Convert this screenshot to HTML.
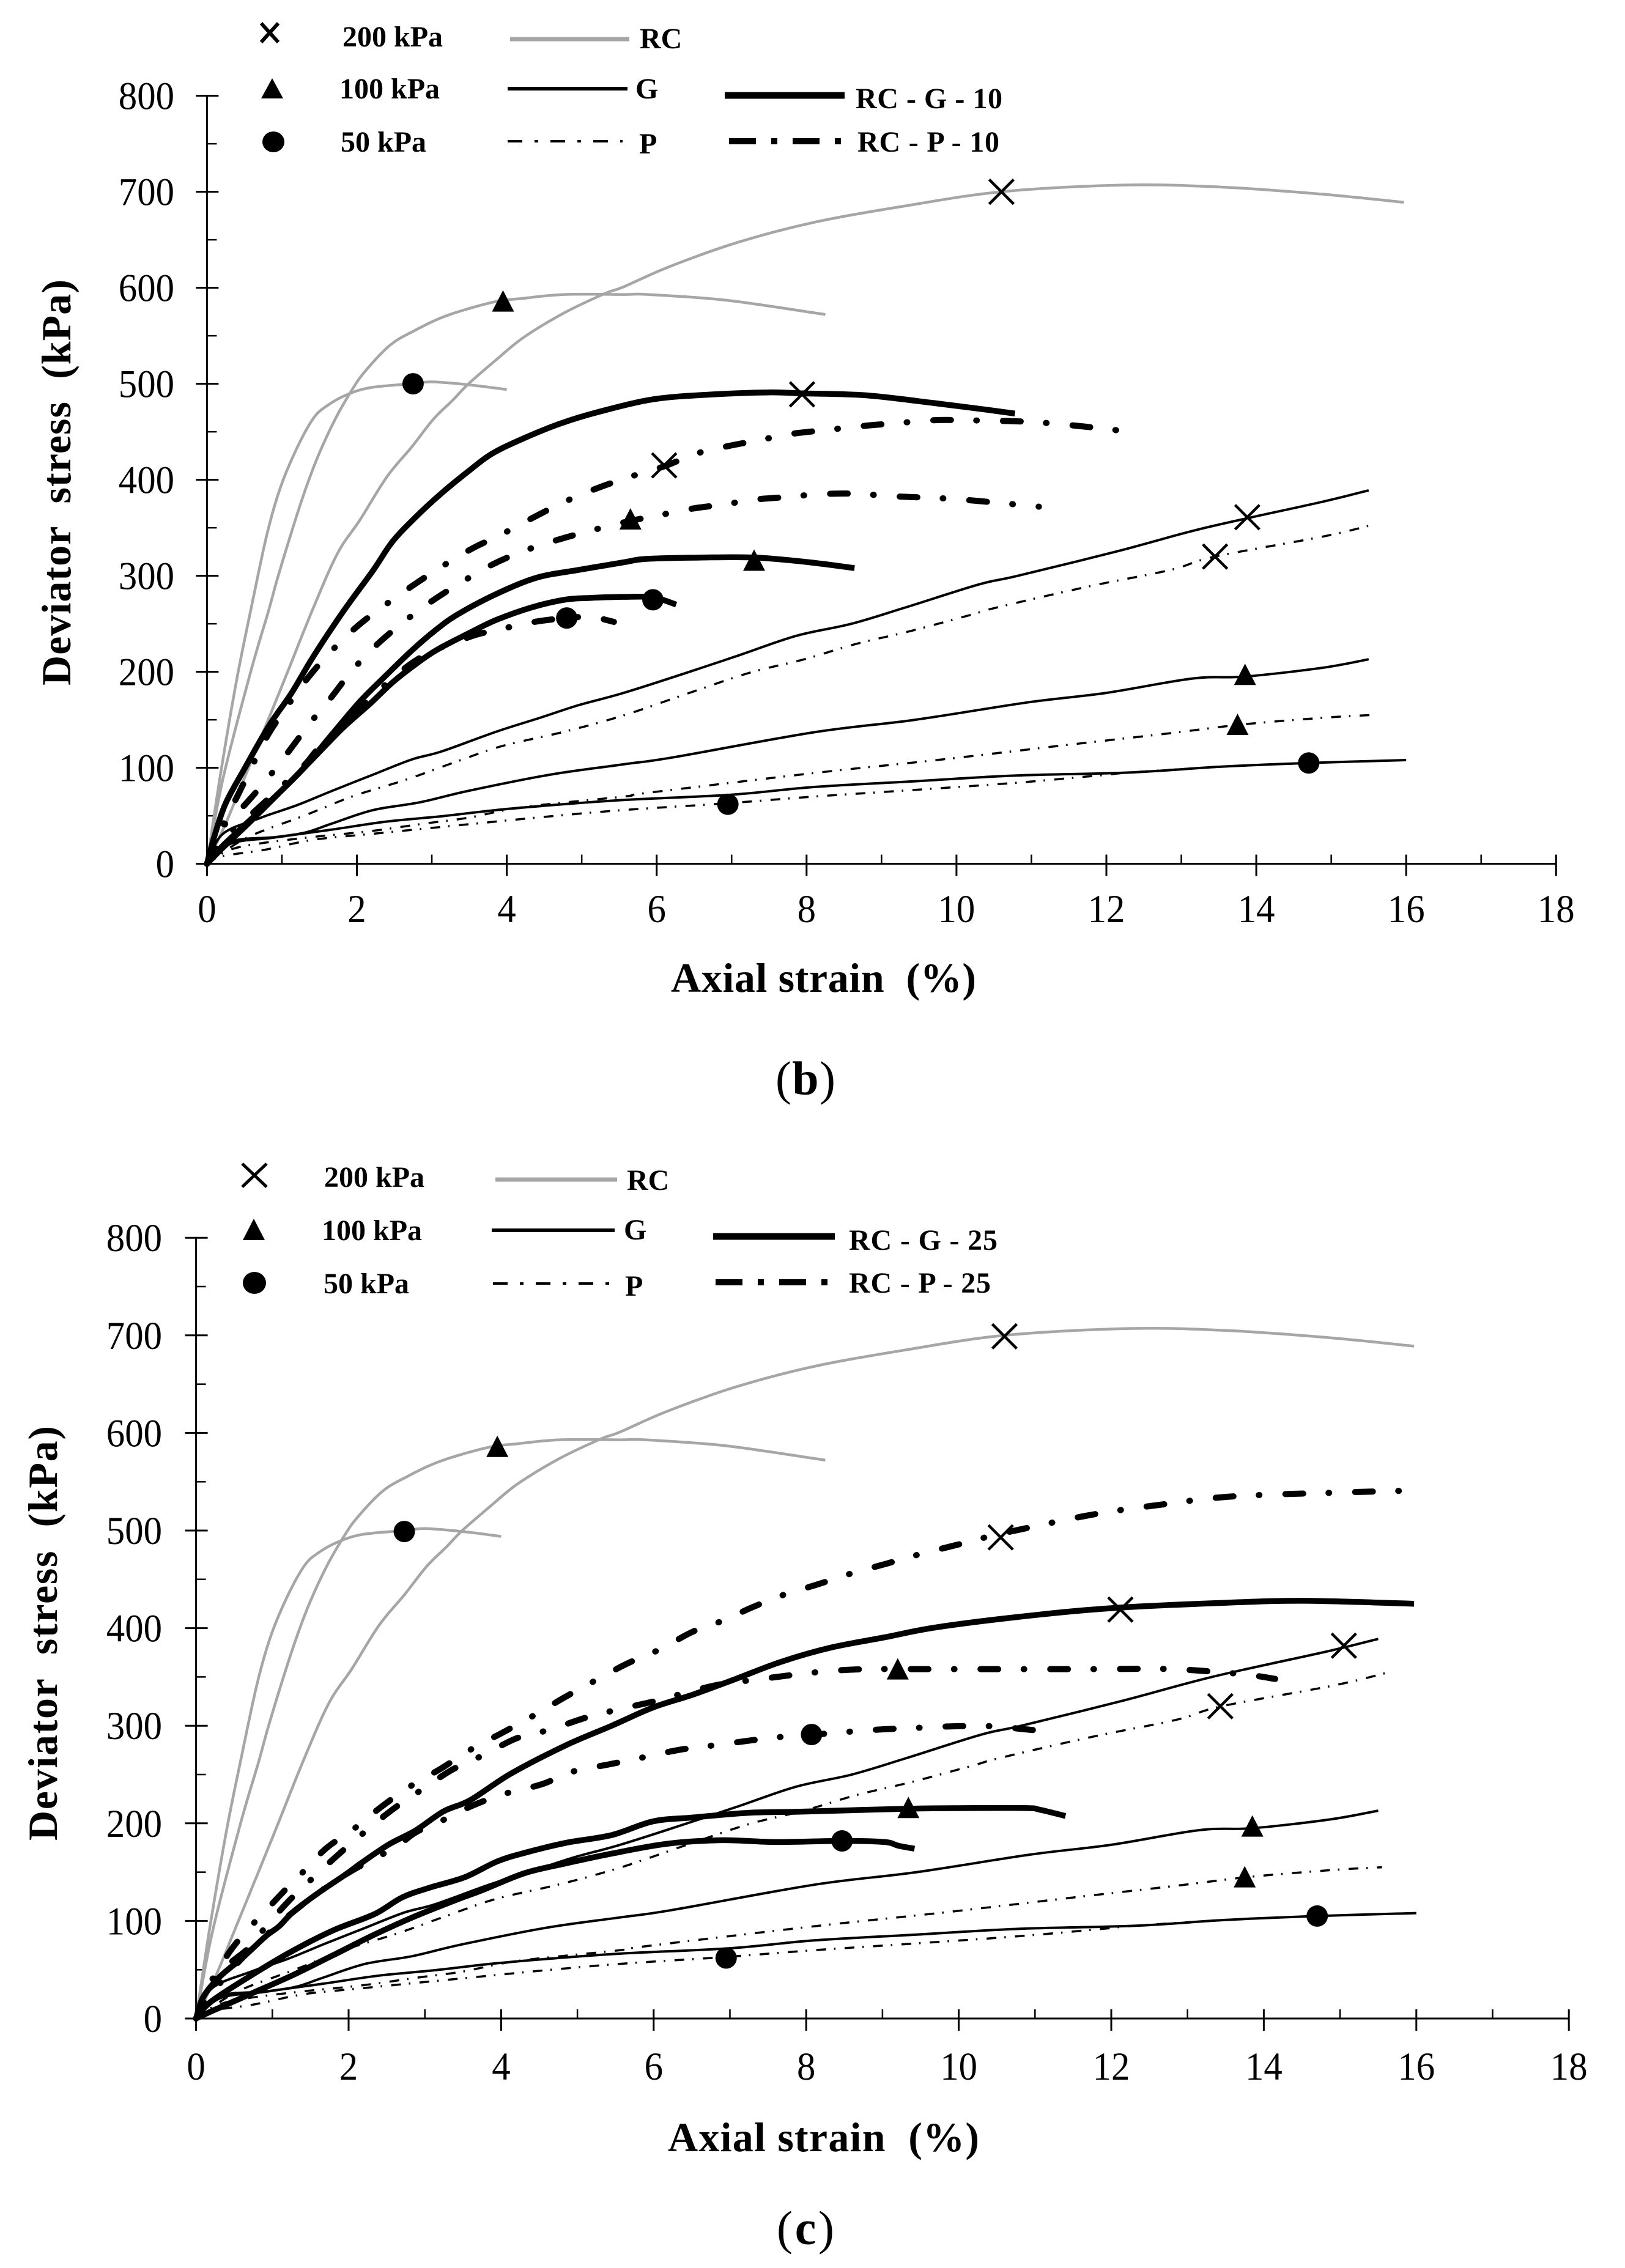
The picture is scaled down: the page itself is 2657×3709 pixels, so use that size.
<!DOCTYPE html>
<html lang="en">
<head>
<meta charset="utf-8">
<title>Deviator stress vs axial strain</title>
<style>
html,body{margin:0;padding:0;background:#fff;}
svg{display:block;}
text{font-family:"Liberation Serif",serif;fill:#000;}
.b{font-weight:bold;}
.lg{font-size:48px;font-weight:bold;}
.tick{font-size:65px;}
.ttl{font-size:68px;font-weight:bold;}
.cap{font-size:78px;}
</style>
</head>
<body>
<svg id="figure" xmlns="http://www.w3.org/2000/svg" width="2657" height="3709" viewBox="0 0 2657 3709">
  <rect x="0" y="0" width="2657" height="3709" fill="#fff"/>

  <g id="chart-b">
    <g id="plot-b"></g>
    <text class="ttl" x="1097" y="1622" textLength="499">Axial strain&#160;&#160;(%)</text>
    <text class="ttl" transform="translate(115,1121) rotate(-90)" textLength="664">Deviator&#160;&#160;stress&#160;&#160;(kPa)</text>
    <text class="cap" x="1268" y="1790" textLength="98">(<tspan class="b">b</tspan>)</text>
    <g>
      <path d="M427 38 L455 69 M455 38 L427 69" stroke="#000" stroke-width="6" fill="none"/>
      <text class="lg" x="560" y="76">200 kPa</text>
      <polygon points="445,128 463,161 427,161" fill="#000"/>
      <text class="lg" x="555" y="161">100 kPa</text>
      <ellipse cx="447" cy="232" rx="18" ry="17" fill="#000"/>
      <text class="lg" x="557" y="248">50 kPa</text>
      <line x1="834" x2="1029" y1="64" y2="64" stroke="#a6a6a6" stroke-width="7"/>
      <text class="lg" x="1046" y="79">RC</text>
      <line x1="830" x2="1026" y1="145" y2="145" stroke="#000" stroke-width="6"/>
      <text class="lg" x="1039" y="161">G</text>
      <line x1="830" x2="1018" y1="231" y2="231" stroke="#000" stroke-width="4" stroke-dasharray="24 20 6 20"/>
      <text class="lg" x="1045" y="251">P</text>
      <line x1="1185" x2="1381" y1="156" y2="156" stroke="#000" stroke-width="11"/>
      <text class="lg" x="1399" y="177" textLength="240">RC - G - 10</text>
      <line x1="1192" x2="1389" y1="231" y2="231" stroke="#000" stroke-width="10" stroke-dasharray="44 25 10 25"/>
      <text class="lg" x="1402" y="248" textLength="232">RC - P - 10</text>
    </g>
  </g>

  <g id="chart-c">
    <g id="plot-c"></g>
    <text class="ttl" x="1092" y="3518" textLength="509">Axial strain&#160;&#160;(%)</text>
    <text class="ttl" transform="translate(93,3010) rotate(-90)" textLength="678">Deviator&#160;&#160;stress&#160;&#160;(kPa)</text>
    <text class="cap" x="1270" y="3670" textLength="94">(<tspan class="b">c</tspan>)</text>
    <g>
      <path d="M396 1903 L436 1941 M436 1903 L396 1941" stroke="#000" stroke-width="5" fill="none"/>
      <text class="lg" x="530" y="1941">200 kPa</text>
      <polygon points="415,1993 433,2028 397,2028" fill="#000"/>
      <text class="lg" x="526" y="2028">100 kPa</text>
      <ellipse cx="416" cy="2098" rx="19" ry="18" fill="#000"/>
      <text class="lg" x="529" y="2115">50 kPa</text>
      <line x1="810" x2="1009" y1="1929" y2="1929" stroke="#a6a6a6" stroke-width="7"/>
      <text class="lg" x="1025" y="1946">RC</text>
      <line x1="804" x2="1005" y1="2012" y2="2012" stroke="#000" stroke-width="6"/>
      <text class="lg" x="1020" y="2027">G</text>
      <line x1="806" x2="998" y1="2099" y2="2099" stroke="#000" stroke-width="4" stroke-dasharray="24 20 6 20"/>
      <text class="lg" x="1022" y="2119">P</text>
      <line x1="1166" x2="1365" y1="2022" y2="2022" stroke="#000" stroke-width="11"/>
      <text class="lg" x="1388" y="2044" textLength="243">RC - G - 25</text>
      <line x1="1170" x2="1372" y1="2097" y2="2097" stroke="#000" stroke-width="10" stroke-dasharray="44 25 10 25"/>
      <text class="lg" x="1388" y="2114" textLength="232">RC - P - 25</text>
    </g>
  </g>
</svg>

<script>
// ---- axis tick labels ----
const xTickLabels = ['0','2','4','6','8','10','12','14','16','18'];
const yTickLabels = ['0','100','200','300','400','500','600','700','800'];

// ---- baseline materials (common to both panels) ----
const rc200Strain = [0,0.25,0.54,1.02,1.4,1.74,2.04,2.4,2.73,3.02,3.28,3.49,3.86,4.22,4.77,5.31,5.56,6.17,7.07,8.09,9.3,10.6,12.23,13.5,14.8,15.97];
const rc200Stress = [0,42,97,189,263,323,358,403,434,463,483,500,525,548,574,594,601,622,647,668,685,700,707,705,698,689];
const rc100Strain = [0,0.215,0.58,0.82,0.94,1.13,1.31,1.49,1.71,1.93,2.11,2.44,2.76,3.2,3.82,4.22,4.77,5.56,5.89,6.93,8.09,8.25];
const rc100Stress = [0,89,199,263,297,346,389,426,463,493,513,540,555,571,585,589,593,593,593,587,574,572];
const rc50Strain = [0,0.18,0.4,0.6,0.8,0.98,1.2,1.42,1.6,1.85,2.18,2.73,3,3.49,4];
const rc50Stress = [0,93,193,270,343,392,433,464,477,488,496,500,502,499,494];
const g200Strain = [0,0.21,0.72,1.2,1.67,2.22,2.73,3.13,3.86,4.44,4.95,5.56,6.4,7.13,7.87,8.6,9.32,10.3,10.82,12.17,13.32,14.88,15.5];
const g200Stress = [0,31,48,61,76,93,108.6,117,137.6,152,165,178,199,218,237.6,250,267,291,300,326,350,377,389];
const p200Strain = [0,0.18,0.58,1.31,1.96,2.66,3.35,3.94,4.77,5.56,6.4,7.24,7.97,8.66,9.39,10.2,10.54,11.77,12.85,13.45,14.9,15.6];
const p200Stress = [0,10,29,50.5,70.7,87.7,107,122.7,137.6,154.6,177,199,213,229,242.5,259.5,267,289,306,320,341,354];
const g100Strain = [0,0.32,0.87,1.31,1.67,2.22,2.84,3.49,4.59,5.56,6.23,8.1,9.45,10.94,12,13.15,13.85,14.87,15.5];
const g100Stress = [0,21,27,32.5,42,56,64,76,93,103.6,111,137,150,168,178,193,195,204,213];
const p100Strain = [0,0.29,0.69,1.42,2.18,2.91,3.49,4.22,5.56,5.89,8.1,9.8,11.5,12.85,13.8,14.87,15.55];
const p100Stress = [0,14,21,28,34,42,48,59,70,74,94.5,108.6,124,136,145,152,155];
const g50Strain = [0,0.32,0.94,1.67,2.4,3.13,3.86,4.59,5.56,7,8.1,9.45,10.8,12.3,13.5,14.7,16];
const g50Stress = [0,23,28,35.7,44,49.5,56,61,66.5,72,80,86,92,95,101,105,108];
const p50Strain = [0,0.21,0.76,1.42,2.18,2.91,3.86,4.59,5.56,6.93,8.1,9.45,10.8,11.9,12.3,13.5,14];
const p50Stress = [0,8,14.4,25,31,36.7,44,49.5,56,63,70,77,84.4,92,95,101,103];

// ---- panel (b) composites ----
const rcg10a200Strain = [0,0.1,0.25,0.5,0.83,1.13,1.42,1.82,2.22,2.47,2.77,3.13,3.49,3.8,4.22,4.73,5.24,5.97,6.77,7.5,7.94,8.78,9.69,10.3,10.78];
const rcg10a200Stress = [0,29,63,99,144,178,216,263,306,335,360,386,409,427,443,459,471,484,489,491,490,488,480,474,469];
const rcg10a100Strain = [0,0.21,0.58,0.94,1.31,1.67,2.04,2.4,2.73,3.06,3.35,3.86,4.4,4.95,5.56,5.86,6.59,7.31,8.04,8.64];
const rcg10a100Stress = [0,16.6,44,72,101.5,135,169,197,222,244,260,281,298,306,314,317.6,319,319,314,308];
const rcg10a50Strain = [0,0.21,0.76,1.13,1.42,1.82,2.18,2.47,2.77,3.06,3.49,3.86,4.33,4.77,5.13,5.56,5.93,6.08,6.26];
const rcg10a50Stress = [0,18.7,59,86.6,110,142,167,188.5,207,222.5,240,254,267,275,277,278,278,275,270];
const rcp10a200Strain = [0,0.21,0.415,0.6,0.82,1.07,1.34,1.64,2,2.35,2.73,3.12,3.53,3.94,4.35,4.77,5.2,5.64,6.1,6.52,6.95,7.35,7.82,8.28,8.75,9.21,9.68,10.12,11.05,12,12.15];
const rcp10a200Stress = [0,40,72,101.5,135,164,193,220,247,268,289,309,328,343.5,360.5,377,391,403,414,427,435,441,448,452,456,459,462,462,460,453,451];
const rcp10a100Strain = [0,0.23,0.5,0.81,1.09,1.37,1.64,1.93,2.25,2.61,2.98,3.37,3.79,4.2,4.66,5.1,5.64,6.01,6.48,6.93,7.26,7.72,8.19,8.64,9.12,9.58,10.05,10.97,11.1];
const rcp10a100Stress = [0,40,61,89,117,146,171.5,200.6,227,251,272.5,292,311,325,337,346.6,357,362.7,370,374.6,379,382,385,385.5,383,381.4,379.5,373,372];
const rcp10a50Strain = [0,0.21,0.67,0.96,1.31,1.6,2.69,3.46,3.9,4.37,4.8,5.13,5.43];
const rcp10a50Stress = [0,25,57,78,103.6,129,206.6,235,244,252,256,257,252];

// ---- panel (c) composites ----
const rcg25c200Strain = [0,0.09,0.3,0.62,0.91,1.09,1.27,1.59,1.95,2.16,2.52,2.88,3.24,3.6,4.13,4.85,5.45,5.99,6.52,7.06,7.67,8.32,9.03,9.75,11.07,12.1,13.5,14.55,15.97];
const rcg25c200Stress = [0,21.5,42,63,84,94.6,109,128,147,159,178,192.8,212,224,251,280,300,318.7,332,347.5,365.5,380,390.6,401.4,414,421,426,428,425];
const rcg25c100Strain = [0,0.19,0.73,1.27,1.8,2.34,2.7,3.06,3.52,3.95,4.31,4.85,5.45,5.99,6.52,7.24,7.96,9.34,10.1,10.89,11.06,11.4];
const rcg25c100Stress = [0,17,44.5,69.5,90.4,107,124,134,144.7,161,169.8,180,188,202,206,210.8,212,215,215.6,215.6,214,207.5];
const rcg25c50Strain = [0,0.19,0.73,1.27,1.8,2.34,2.88,3.42,3.77,4.31,4.85,5.45,6.17,6.89,7.6,8.48,9.03,9.21,9.42];
const rcg25c50Stress = [0,7,25.7,44.5,65,86,105,121.8,132,149,159,169,179,182.7,180.8,182,180.8,177,174];
const rcp25c200Strain = [0,0.15,0.46,1.05,1.37,1.7,2.07,2.43,2.81,3.22,3.61,4.02,4.44,4.83,5.25,5.66,6.09,6.52,6.94,7.27,7.7,8.14,8.59,9.05,9.5,9.96,10.4,10.86,11.8,12.7,13.6,15,15.95];
const rcp25c200Stress = [0,25,70.6,122,147.5,174,194.4,217,238,256.5,276,293,311,329,347,364,378.6,396.6,408.6,420.6,434,444.6,456,466,476,485,494,502,517,527,535,539,541];
const rcp25c100Strain = [0,0.21,0.68,0.9,1.21,1.54,1.88,2.22,2.59,2.98,3.36,3.77,4.2,4.64,5.1,5.54,5.99,6.43,6.89,7.37,7.82,8.3,8.77,9.21,10.03,10.97,11.9,12.8,13.7,14.15];
const rcp25c100Stress = [0,40,71.6,92.5,120,144.7,169,191.7,215,235.5,255,270,287,296,308,316.8,324.7,334,342.7,347.5,352,356,358,358,358,358,358,358,353,348];
const rcp25c50Strain = [0,0.15,0.62,1.27,1.95,2.6,2.88,3.23,3.65,4.08,4.53,4.97,5.39,5.89,6.35,6.8,7.28,7.73,8.12,8.58,9.03,9.5,9.97,10.44,10.86,11.05];
const rcp25c50Stress = [0,20,63,109,147,175,190.7,203,219,231,240,253.7,260,268,275.5,280,285,289,291,294,296.4,298,299.5,299.5,296.4,295];

// ---- markers: strain / stress ----
const bCrossStrain = [10.6,7.94,6.1,13.88,13.45];
const bCrossStress = [700,489,415,361,320];
const bTriangleStrain = [3.95,5.65,7.3,13.85,13.75];
const bTriangleStress = [586,359,316,197,145];
const bCircleStrain = [2.75,5.95,4.8,14.7,6.95];
const bCircleStress = [500,275,256,105,62];
const cCrossStrain = [10.6,12.12,10.55,15.05,13.43];
const cCrossStress = [699,419,493,382,320];
const cTriangleStrain = [3.95,9.2,9.34,13.85,13.75];
const cTriangleStress = [586,358,216,197,145];
const cCircleStrain = [2.73,8.07,8.47,14.7,6.95];
const cCircleStress = [499,291,182,105,62];

// ---- line styles ----
const SVGNS = 'http://www.w3.org/2000/svg';
const STYLE = {
  rc:  {stroke:'#a6a6a6', width:4.5, dash:null},
  g:   {stroke:'#000', width:4, dash:null},
  p:   {stroke:'#000', width:3.5, dash:'16 13 2.5 15'},
  rcg: {stroke:'#000', width:9.5, dash:null},
  rcp: {stroke:'#000', width:10, dash:'29 41.5 1 42.5'}
};

function spline(px){
  let d = 'M' + px[0][0].toFixed(1) + ' ' + px[0][1].toFixed(1);
  for(let i=0;i<px.length-1;i++){
    const p0 = px[Math.max(i-1,0)], p1 = px[i], p2 = px[i+1], p3 = px[Math.min(i+2,px.length-1)];
    const c1x = p1[0]+(p2[0]-p0[0])/6, c1y = p1[1]+(p2[1]-p0[1])/6;
    const c2x = p2[0]-(p3[0]-p1[0])/6, c2y = p2[1]-(p3[1]-p1[1])/6;
    d += 'C'+c1x.toFixed(1)+' '+c1y.toFixed(1)+' '+c2x.toFixed(1)+' '+c2y.toFixed(1)+' '+p2[0].toFixed(1)+' '+p2[1].toFixed(1);
  }
  return d;
}

function drawAxes(root, sx, sy, labelRight, labelBase){
  const axisY = document.createElementNS(SVGNS,'line');
  
  
  axisY.setAttribute('x1', sx(0)); axisY.setAttribute('x2', sx(0));
  axisY.setAttribute('y1', sy(800)); axisY.setAttribute('y2', sy(0));
  axisY.setAttribute('stroke', '#000'); axisY.setAttribute('stroke-width', 3);
  root.appendChild(axisY);
  const axisX = document.createElementNS(SVGNS,'line');
  
  
  axisX.setAttribute('x1', sx(0)); axisX.setAttribute('x2', sx(18));
  axisX.setAttribute('y1', sy(0)); axisX.setAttribute('y2', sy(0));
  axisX.setAttribute('stroke', '#000'); axisX.setAttribute('stroke-width', 3);
  root.appendChild(axisX);

  yTickLabels.forEach(function(lab){
    const v = Number(lab);
    const t = document.createElementNS(SVGNS,'line');
    
    
    t.setAttribute('x1', sx(0)-18); t.setAttribute('x2', sx(0)+19);
    t.setAttribute('y1', sy(v)); t.setAttribute('y2', sy(v));
    t.setAttribute('stroke', '#000'); t.setAttribute('stroke-width', 3);
    root.appendChild(t);
    if(v < 800){
      const m = document.createElementNS(SVGNS,'line');
      
      
      m.setAttribute('x1', sx(0)); m.setAttribute('x2', sx(0)+16);
      m.setAttribute('y1', sy(v+50)); m.setAttribute('y2', sy(v+50));
      m.setAttribute('stroke', '#000'); m.setAttribute('stroke-width', 2.5);
      root.appendChild(m);
    }
    const txt = document.createElementNS(SVGNS,'text');
    
    
    txt.setAttribute('class', 'tick');
    txt.setAttribute('x', labelRight);
    txt.setAttribute('y', sy(v)+22);
    txt.setAttribute('text-anchor', 'end');
    txt.setAttribute('textLength', lab.length*30.4);
    txt.setAttribute('lengthAdjust', 'spacingAndGlyphs');
    txt.textContent = lab;
    root.appendChild(txt);
  });

  xTickLabels.forEach(function(lab){
    const v = Number(lab);
    const t = document.createElementNS(SVGNS,'line');
    
    
    t.setAttribute('x1', sx(v)); t.setAttribute('x2', sx(v));
    t.setAttribute('y1', sy(0)-15); t.setAttribute('y2', sy(0)+20);
    t.setAttribute('stroke', '#000'); t.setAttribute('stroke-width', 3);
    root.appendChild(t);
    if(v < 18){
      const m = document.createElementNS(SVGNS,'line');
      
      
      m.setAttribute('x1', sx(v+1)); m.setAttribute('x2', sx(v+1));
      m.setAttribute('y1', sy(0)-15); m.setAttribute('y2', sy(0));
      m.setAttribute('stroke', '#000'); m.setAttribute('stroke-width', 2.5);
      root.appendChild(m);
    }
    const txt = document.createElementNS(SVGNS,'text');
    
    
    txt.setAttribute('class', 'tick');
    txt.setAttribute('x', sx(v));
    txt.setAttribute('y', labelBase);
    txt.setAttribute('text-anchor', 'middle');
    txt.setAttribute('textLength', lab.length*30.4);
    txt.setAttribute('lengthAdjust', 'spacingAndGlyphs');
    txt.textContent = lab;
    root.appendChild(txt);
  });
}

function drawCurve(root, sx, sy, xs, ys, styleKey, name){
  const st = STYLE[styleKey];
  const px = xs.map(function(x,i){ return [sx(x), sy(ys[i])]; });
  const el = document.createElementNS(SVGNS,'path');
  
  
  el.setAttribute('d', spline(px));
  el.setAttribute('fill', 'none');
  el.setAttribute('stroke', st.stroke);
  el.setAttribute('stroke-width', st.width);
  el.setAttribute('stroke-linecap', styleKey === 'rcp' ? 'round' : 'butt');
  el.setAttribute('stroke-linejoin', 'round');
  if(st.dash){ el.setAttribute('stroke-dasharray', st.dash); }
  root.appendChild(el);
}

function drawCrosses(root, sx, sy, xs, ys){
  xs.forEach(function(x,i){
    const cx = sx(x), cy = sy(ys[i]);
    const el = document.createElementNS(SVGNS,'path');
    
    
    el.setAttribute('d', 'M'+(cx-20)+' '+(cy-20)+'L'+(cx+20)+' '+(cy+20)+'M'+(cx+20)+' '+(cy-20)+'L'+(cx-20)+' '+(cy+20));
    el.setAttribute('stroke', '#000');
    el.setAttribute('stroke-width', 4.5);
    el.setAttribute('fill', 'none');
    root.appendChild(el);
  });
}
function drawTriangles(root, sx, sy, xs, ys){
  xs.forEach(function(x,i){
    const cx = sx(x), cy = sy(ys[i]);
    const el = document.createElementNS(SVGNS,'polygon');
    
    
    el.setAttribute('points', cx+','+(cy-18)+' '+(cx+18)+','+(cy+17)+' '+(cx-18)+','+(cy+17));
    el.setAttribute('fill', '#000');
    root.appendChild(el);
  });
}
function drawCircles(root, sx, sy, xs, ys){
  xs.forEach(function(x,i){
    const el = document.createElementNS(SVGNS,'circle');
    
    
    el.setAttribute('cx', sx(x));
    el.setAttribute('cy', sy(ys[i]));
    el.setAttribute('r', 17.5);
    el.setAttribute('fill', '#000');
    root.appendChild(el);
  });
}
function drawBaseCurves(root, sx, sy){
  drawCurve(root, sx, sy, rc200Strain, rc200Stress, 'rc', 'rc-200kpa-curve');
  drawCurve(root, sx, sy, rc100Strain, rc100Stress, 'rc', 'rc-100kpa-curve');
  drawCurve(root, sx, sy, rc50Strain, rc50Stress, 'rc', 'rc-50kpa-curve');
  drawCurve(root, sx, sy, g200Strain, g200Stress, 'g', 'g-200kpa-curve');
  drawCurve(root, sx, sy, g100Strain, g100Stress, 'g', 'g-100kpa-curve');
  drawCurve(root, sx, sy, g50Strain, g50Stress, 'g', 'g-50kpa-curve');
  drawCurve(root, sx, sy, p200Strain, p200Stress, 'p', 'p-200kpa-curve');
  drawCurve(root, sx, sy, p100Strain, p100Stress, 'p', 'p-100kpa-curve');
  drawCurve(root, sx, sy, p50Strain, p50Stress, 'p', 'p-50kpa-curve');
}

// ---- panel (b) ----
(function(){
  const root = document.getElementById('plot-b');
  const sx = function(v){ return 338.4 + v*122.55; };
  const sy = function(v){ return 1412.6 - v*1.57; };
  drawAxes(root, sx, sy, 285, 1508);
  drawBaseCurves(root, sx, sy);
  drawCurve(root, sx, sy, rcg10a200Strain, rcg10a200Stress, 'rcg', 'rc-g-10-200kpa-curve');
  drawCurve(root, sx, sy, rcg10a100Strain, rcg10a100Stress, 'rcg', 'rc-g-10-100kpa-curve');
  drawCurve(root, sx, sy, rcg10a50Strain, rcg10a50Stress, 'rcg', 'rc-g-10-50kpa-curve');
  drawCurve(root, sx, sy, rcp10a200Strain, rcp10a200Stress, 'rcp', 'rc-p-10-200kpa-curve');
  drawCurve(root, sx, sy, rcp10a100Strain, rcp10a100Stress, 'rcp', 'rc-p-10-100kpa-curve');
  drawCurve(root, sx, sy, rcp10a50Strain, rcp10a50Stress, 'rcp', 'rc-p-10-50kpa-curve');
  drawCrosses(root, sx, sy, bCrossStrain, bCrossStress);
  drawTriangles(root, sx, sy, bTriangleStrain, bTriangleStress);
  drawCircles(root, sx, sy, bCircleStrain, bCircleStress);
})();

// ---- panel (c) ----
(function(){
  const root = document.getElementById('plot-c');
  const sx = function(v){ return 320.6 + v*124.7; };
  const sy = function(v){ return 3301 - v*1.596; };
  drawAxes(root, sx, sy, 265, 3401);
  drawBaseCurves(root, sx, sy);
  drawCurve(root, sx, sy, rcg25c200Strain, rcg25c200Stress, 'rcg', 'rc-g-25-200kpa-curve');
  drawCurve(root, sx, sy, rcg25c100Strain, rcg25c100Stress, 'rcg', 'rc-g-25-100kpa-curve');
  drawCurve(root, sx, sy, rcg25c50Strain, rcg25c50Stress, 'rcg', 'rc-g-25-50kpa-curve');
  drawCurve(root, sx, sy, rcp25c200Strain, rcp25c200Stress, 'rcp', 'rc-p-25-200kpa-curve');
  drawCurve(root, sx, sy, rcp25c100Strain, rcp25c100Stress, 'rcp', 'rc-p-25-100kpa-curve');
  drawCurve(root, sx, sy, rcp25c50Strain, rcp25c50Stress, 'rcp', 'rc-p-25-50kpa-curve');
  drawCrosses(root, sx, sy, cCrossStrain, cCrossStress);
  drawTriangles(root, sx, sy, cTriangleStrain, cTriangleStress);
  drawCircles(root, sx, sy, cCircleStrain, cCircleStress);
})();
</script>
</body>
</html>
